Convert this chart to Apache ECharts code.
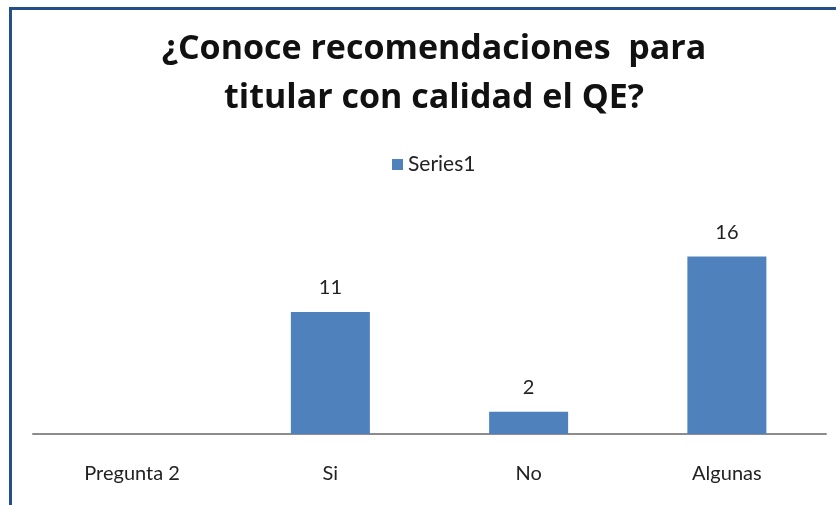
<!DOCTYPE html>
<html>
<head>
<meta charset="utf-8">
<script src="https://cdn.jsdelivr.net/npm/echarts@6/dist/echarts.min.js"></script>
<style>
  html, body { margin: 0; padding: 0; background: #fff; }
  #wrap { position: relative; width: 836px; height: 505px; overflow: hidden; }
  /* marco azul del grafico (solo se ve arriba e izquierda) */
  #frame {
    position: absolute; left: 9px; top: 7px; width: 900px; height: 600px;
    border-left: 3px solid #254F8B; border-top: 3px solid #254F8B;
  }
  #chart { position: absolute; left: 0; top: 0; width: 836px; height: 505px; }
</style>
</head>
<body>
<div id="wrap">
  <div id="frame"></div>
  <div id="chart"></div>
</div>
<script>
// datos
const categories = ["Pregunta 2", "Si", "No", "Algunas"];
const series1 = [null, 11, 2, 16];
const titleLines = ["¿Conoce recomendaciones  para", "titular con calidad el QE?"];

const chart = echarts.init(document.getElementById("chart"));
chart.setOption({
  animation: false,
  title: {
    text: titleLines.join("\n"),
    left: 429,
    top: 20,
    textAlign: "center",
    textStyle: {
      fontFamily: "Open Sans",
      fontWeight: "bold",
      fontSize: 34,
      lineHeight: 49,
      color: "#111",
    },
  },
  legend: {
    data: ["Series1"],
    left: 392,
    top: 154,
    padding: 0,
    itemWidth: 11,
    itemHeight: 11,
    itemGap: 5,
    icon: "rect",
    textStyle: { fontFamily: "Lato", fontSize: 21, color: "#222" },
  },
  grid: { left: 33, right: 10, top: 212, height: 222 },
  xAxis: {
    type: "category",
    data: categories,
    axisLine: { lineStyle: { color: "#8c8c8c", width: 2 } },
    axisTick: { show: false },
    axisLabel: {
      margin: 30,
      fontFamily: "Lato",
      fontSize: 20,
      color: "#222",
    },
  },
  yAxis: {
    type: "value",
    min: 0,
    max: 20,
    show: false,
    splitLine: { show: false },
  },
  series: [
    {
      name: "Series1",
      type: "bar",
      data: series1,
      barWidth: 79,
      itemStyle: { color: "#4F81BD" },
      label: {
        show: true,
        position: "top",
        distance: 14,
        fontFamily: "Lato",
        fontSize: 20,
        color: "#222",
      },
    },
  ],
});
</script>
</body>
</html>
